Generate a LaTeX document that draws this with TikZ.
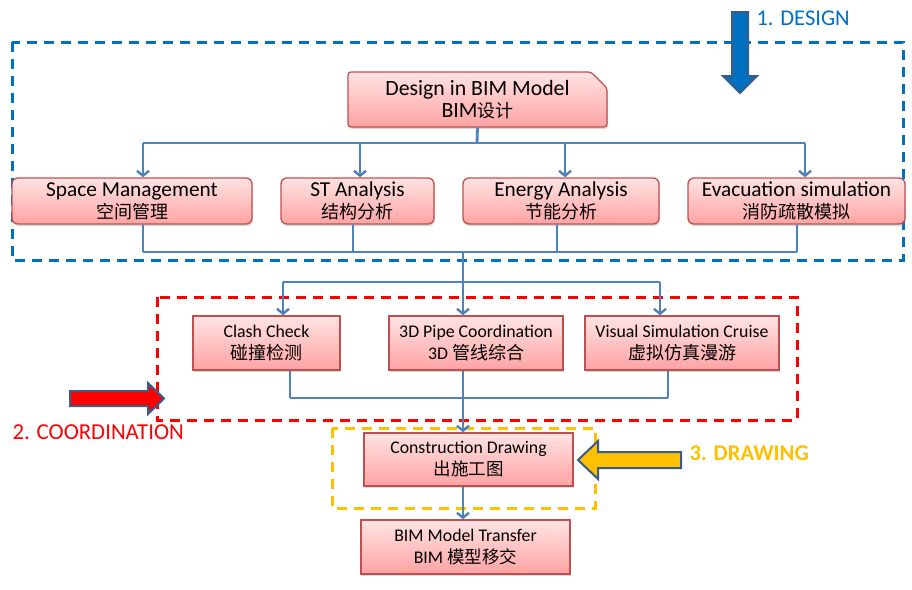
\documentclass[tikz,border=0pt]{standalone}
\usepackage{fontspec}
\setmainfont{Carlito}
\newfontfamily\cjk{Noto Sans CJK SC}
\usepackage{tikz}
\usetikzlibrary{arrows.meta,shapes.misc,shadows}

\definecolor{linkblue}{HTML}{4F81BD}
\definecolor{designblue}{HTML}{0070C0}
\definecolor{boxedge}{HTML}{C0504D}
\definecolor{boxtop}{HTML}{FFE3E3}
\definecolor{boxbot}{HTML}{FFA3A3}
\definecolor{arrowedge}{HTML}{385D8A}
\definecolor{drawyellow}{HTML}{FFC000}

\newcommand{\zh}[1]{{\cjk\fontsize{\zhsz}{22}\selectfont #1}}

\begin{document}
\begin{tikzpicture}[x=1pt, y=-1pt]
    \tikzstyle{box_base} = [draw=boxedge, line width=1.3pt, top color=boxtop, bottom color=boxbot, align=center, inner sep=0pt, drop shadow={shadow xshift=1pt, shadow yshift=-2pt, opacity=0.3}]
    \tikzstyle{box_big} = [box_base, rounded corners=6pt, minimum height=46pt, font={\fontsize{21.3}{22}\selectfont\def\zhsz{18}}]
    \tikzstyle{box_small} = [box_base, minimum height=54pt, font={\fontsize{17.8}{22}\selectfont\def\zhsz{18}}]
    \tikzstyle{link} = [draw=linkblue, line width=2.8pt]
    \tikzstyle{arr} = [link, -{Straight Barb[length=5pt, width=12pt, line width=2.4pt]}]
    \tikzstyle{frame} = [line width=3pt, dash pattern=on 10pt off 7pt]
    \tikzstyle{block_arrow} = [draw=arrowedge, line width=2pt, line join=miter]
    \useasboundingbox (0,0) rectangle (912,589);

    % stage frames
    \draw[frame, designblue] (12,42) rectangle (903,260);
    \draw[frame, red] (157,297) rectangle (797,420);
    \draw[frame, drawyellow] (332,428) rectangle (595,508);

    % boxes
    \node[box_big, chamfered rectangle, chamfered rectangle corners=north east, chamfered rectangle xsep=8pt, chamfered rectangle ysep=8pt, minimum width=259pt, minimum height=55pt, rounded corners=3pt, font={\fontsize{21.8}{22}\selectfont\def\zhsz{18}}] (bim) at (477.5,99.5) {Design in BIM Model\\BIM\zh{设计}};

    \node[box_big, minimum width=240pt] (space) at (132,201) {Space Management\\\zh{空间管理}};
    \node[box_big, minimum width=153pt] (st) at (357.5,201) {ST Analysis\\\zh{结构分析}};
    \node[box_big, minimum width=196pt] (energy) at (561,201) {Energy Analysis\\\zh{节能分析}};
    \node[box_big, minimum width=217pt] (evac) at (796.5,201) {Evacuation simulation\\\zh{消防疏散模拟}};

    \node[box_small, minimum width=147pt] (clash) at (266.5,343) {Clash Check\\\zh{碰撞检测}};
    \node[box_small, minimum width=174pt] (pipe) at (476,343) {3D Pipe Coordination\\3D \zh{管线综合}};
    \node[box_small, minimum width=194pt] (cruise) at (682,343) {Visual Simulation Cruise\\\zh{虚拟仿真漫游}};

    \node[box_small, minimum width=209pt, minimum height=53pt, font={\fontsize{17.8}{22}\selectfont\def\zhsz{17.5}}] (cdraw) at (468.5,459.5) {Construction Drawing\\\zh{出施工图}};
    \node[box_small, minimum width=209pt, font={\fontsize{17.8}{22}\selectfont\def\zhsz{17.5}}] (transfer) at (465.5,547) {BIM Model Transfer\\BIM \zh{模型移交}};

    % design level
    \draw[link] (bim.south) -- (477,143);
    \foreach \n/\x in {space/143,st/360,energy/565,evac/805}{
        \coordinate (u\n) at (\x,143);
        \draw[arr] (u\n) -- (u\n |- \n.north);
    }
    \draw[link] (uspace) -- (uevac);
    \foreach \n/\x in {space/143,st/353,energy/557,evac/797}{
        \coordinate (d\n) at (\x,252);
        \draw[link] (d\n |- \n.south) -- (d\n);
    }
    \draw[link] (dspace) -- (devac);

    % coordination level
    \coordinate (hub) at (463,252);
    \coordinate (split) at (463,282);
    \draw[link] (hub) -- (split);
    \foreach \n/\x in {clash/283,pipe/463,cruise/660}{
        \coordinate (u\n) at (\x,282);
        \draw[arr] (u\n) -- (u\n |- \n.north);
    }
    \draw[link] (uclash) -- (ucruise);
    \foreach \n/\x in {clash/290,pipe/463,cruise/668}{
        \coordinate (d\n) at (\x,398);
        \draw[link] (d\n |- \n.south) -- (d\n);
    }
    \draw[link] (dclash) -- (dcruise);

    % drawing level
    \draw[arr] (dpipe) -- (dpipe |- cdraw.north);
    \draw[arr] (dpipe |- cdraw.south) -- (dpipe |- transfer.north);

    % block arrows
    \filldraw[block_arrow, fill=designblue] (732,12) -- (748,12) -- (748,76) -- (757,76) -- (740,93) -- (723,76) -- (732,76) -- cycle;
    \filldraw[block_arrow, fill=red] (70,391) -- (148,391) -- (148,383) -- (164,398.5) -- (148,414) -- (148,406) -- (70,406) -- cycle;
    \filldraw[block_arrow, fill=drawyellow] (681,452) -- (598,452) -- (598,441) -- (578,460) -- (598,479) -- (598,468) -- (681,468) -- cycle;

    % stage labels
    \node[text=designblue, font=\fontsize{22.5}{24}\selectfont, anchor=west] (lbldesign) at (753,18) {1. DESIGN};
    \node[text=red, font=\fontsize{22.8}{24}\selectfont, anchor=west] (lblcoord) at (9,432) {2. COORDINATION};
    \node[text=drawyellow, font=\fontsize{22.5}{24}\bfseries\selectfont, anchor=west] (lbldraw) at (686,453) {3. DRAWING};
\end{tikzpicture}
\end{document}
